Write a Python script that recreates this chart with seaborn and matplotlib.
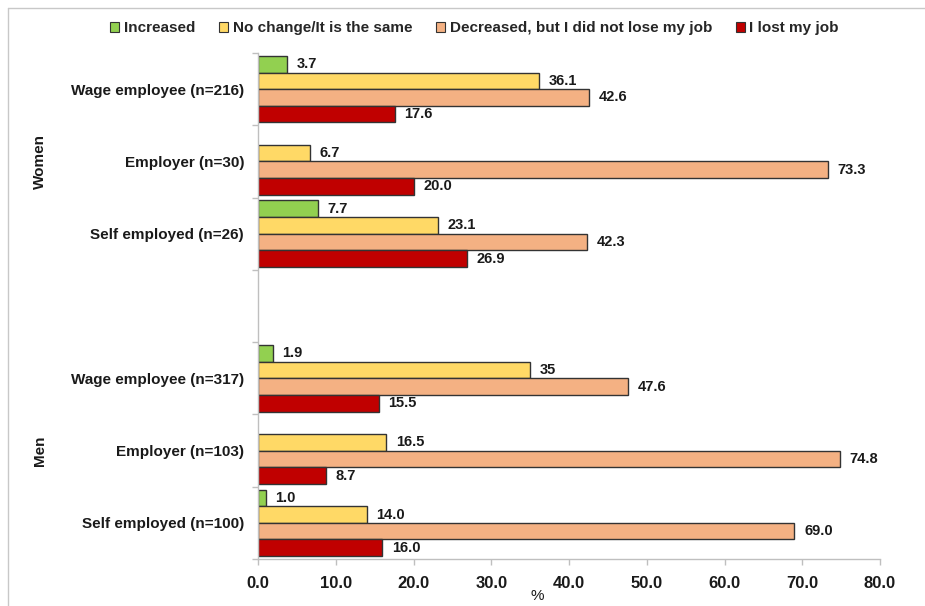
import matplotlib
matplotlib.use("Agg")
import matplotlib.pyplot as plt
from matplotlib.lines import Line2D
from matplotlib.patches import Patch
import numpy as np
import pandas as pd
import seaborn as sns

# Job / earnings situation by employment type, women (top) and men (bottom)
categories = [
    "Wage employee (n=216)", "Employer (n=30)", "Self employed (n=26)",
    "",
    "Wage employee (n=317)", "Employer (n=103)", "Self employed (n=100)",
]
series = [
    "Increased",
    "No change/It is the same",
    "Decreased, but I did not lose my job",
    "I lost my job",
]
# values kept as the printed strings; None = no bar
increased = ["3.7", None, "7.7", None, "1.9", None, "1.0"]
no_change = ["36.1", "6.7", "23.1", None, "35", "16.5", "14.0"]
decreased = ["42.6", "73.3", "42.3", None, "47.6", "74.8", "69.0"]
lost_job = ["17.6", "20.0", "26.9", None, "15.5", "8.7", "16.0"]
colors = ["#92D050", "#FFD966", "#F4B183", "#C00000"]
x_ticks = [0, 10, 20, 30, 40, 50, 60, 70, 80]
groups = [("Women", 1), ("Men", 5)]

series_text = [increased, no_change, decreased, lost_job]
rows = []
for name, vals in zip(series, series_text):
    for cat, v in zip(categories, vals):
        if v is not None:
            rows.append({"category": cat, "series": name, "value": float(v)})
df = pd.DataFrame(rows)

sns.set_theme(style="white")
plt.rcParams["font.family"] = ["Liberation Sans", "DejaVu Sans"]
plt.rcParams["font.weight"] = "bold"

fig = plt.figure(figsize=(9.25, 6.06), dpi=100)
ax = fig.add_axes([258 / 925, 1 - 559 / 606, 622 / 925, 506 / 606])

sns.barplot(
    data=df, x="value", y="category", hue="series",
    order=categories, hue_order=series, palette=colors,
    orient="h", width=0.92, edgecolor="#333333", linewidth=1.0,
    saturation=1, errorbar=None, legend=False, ax=ax,
)

# value labels, taken from the printed strings
for container, vals in zip(ax.containers, series_text):
    labels = []
    for patch in container.patches:
        idx = int(round(patch.get_y() + patch.get_height() / 2))
        labels.append(vals[idx] if vals[idx] is not None else "")
    ax.bar_label(container, labels=labels, padding=7, fontsize=10.5,
                 fontweight="bold", color="#1a1a1a")

ax.set_xlim(0, 80)
ax.set_ylim(len(categories) - 0.5, -0.5)
ax.set_xticks(x_ticks)
ax.set_xticklabels([f"{t:.1f}" for t in x_ticks], fontsize=12,
                   fontweight="bold", color="#1a1a1a")
ax.set_yticks(range(len(categories)))
ax.set_yticklabels(categories, fontsize=11, fontweight="bold", color="#1a1a1a")
ax.set_yticks(np.arange(-0.5, len(categories)), minor=True)
ax.tick_params(axis="y", which="major", length=0, pad=10)
ax.tick_params(axis="y", which="minor", length=4, color="#bfbfbf", width=1,
               direction="out", left=True)
ax.tick_params(axis="x", which="major", length=4, color="#bfbfbf", width=1,
               direction="out", bottom=True, pad=8)
ax.set_ylabel("")
ax.set_xlabel("%", fontsize=11, fontweight="normal", color="#1a1a1a")
ax.xaxis.label.set_va("center")
ax.xaxis.set_label_coords(0.449, -0.074)

for side in ["top", "right"]:
    ax.spines[side].set_visible(False)
for side in ["left", "bottom"]:
    ax.spines[side].set_color("#bfbfbf")
    ax.spines[side].set_linewidth(1)

# group labels on the left
for name, center in groups:
    y = ax.transData.transform((0, center))[1]
    yf = fig.transFigure.inverted().transform((0, y))[1]
    fig.text(40 / 925, yf, name, rotation=90, ha="center", va="center",
             fontsize=11, fontweight="bold", color="#1a1a1a")

handles = [Patch(facecolor=c, edgecolor="#333333", linewidth=0.8) for c in colors]
fig.legend(handles, series, loc="center", bbox_to_anchor=(0.513, 0.953),
           ncol=4, frameon=False, handlelength=0.6,
           handleheight=0.6, handletextpad=0.3, columnspacing=1.55,
           prop={"weight": "bold", "size": 11})

# thin frame around the chart area
fig.add_artist(Line2D([8 / 925, 8 / 925], [0, 1 - 8 / 606],
                      transform=fig.transFigure, color="#c8c8c8", lw=1))
fig.add_artist(Line2D([8 / 925, 1], [1 - 8 / 606, 1 - 8 / 606],
                      transform=fig.transFigure, color="#c8c8c8", lw=1))

fig.savefig("out.png", dpi=100, facecolor="white")
